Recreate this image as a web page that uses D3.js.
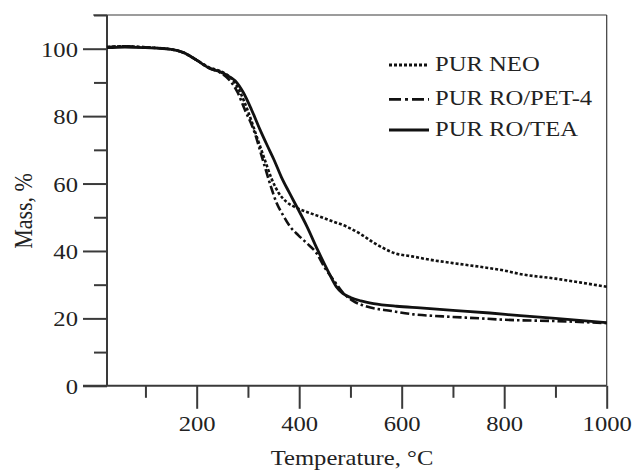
<!DOCTYPE html>
<html>
<head>
<meta charset="utf-8">
<script src="https://cdn.jsdelivr.net/npm/d3@7"></script>
<style>
  body { margin: 0; background: #fff; }
  text { font-family: "Liberation Serif", "Times New Roman", serif; fill: #222; }
</style>
</head>
<body>
<svg id="chart" width="639" height="470"></svg>
<script>
// TGA curves, [temperature °C, mass %]
var neo = [[25,100.5],[60,100.7],[100,100.4],[150,99.8],[175,98.8],[200,96.6],[225,94.4],[245,93.4],[258,92.4],
  [270,90.8],[285,87],[300,81.5],[317,74],[333,67],[346,61.5],[360,57.2],[375,54.6],[395,52.8],[420,51.3],
  [440,50.2],[465,48.8],[493,47.2],[520,45],[545,42.5],[565,40.8],[585,39.4],[620,38.4],[655,37.4],[700,36.4],
  [753,35.3],[800,34.2],[830,33.2],[900,31.8],[950,30.6],[1000,29.4]];
var pet4 = [[25,100.5],[60,100.7],[100,100.4],[150,99.8],[175,98.8],[200,96.6],[225,94.2],[245,93],[265,90.5],
  [280,87],[294,81.9],[311,76],[330,66.5],[345,59],[356,54.2],[369,50.5],[382,47.3],[398,44.7],[415,42.3],
  [434,39.3],[450,35],[467,31.4],[486,27.5],[505,25.2],[532,23.5],[580,22.2],[623,21.2],[680,20.6],
  [753,20],[800,19.6],[900,19.2],[1000,18.6]];
var tea = [[25,100.3],[60,100.5],[100,100.3],[150,99.8],[175,98.8],[200,96.6],[225,94.2],[245,93.2],[258,92.2],
  [275,90.5],[291,87],[307,81.9],[323.5,76],[337,71.5],[351,67],[365,62],[380,57.5],[395,53.2],[415,47.3],
  [436,40.3],[455,34.4],[472,29.5],[485,27.4],[500,26.2],[520,25.2],[545,24.4],[590,23.6],[636,23.1],
  [700,22.4],[772,21.6],[831,20.8],[900,20],[1000,18.7]];

var seriesNames = ["PUR NEO", "PUR RO/PET-4", "PUR RO/TEA"];
var seriesData = [neo, pet4, tea];
var dashes = ["3,2", "9,3,2.5,3", null];

var xMajor = [200, 400, 600, 800, 1000];
var xMinor = [100, 300, 500, 700, 900];
var yMajor = [0, 20, 40, 60, 80, 100];
var yMinor = [10, 30, 50, 70, 90, 110];

var svg = d3.select("#chart");
var axisCol = "#3a3a3a";
var sx = 1.12; // text looks a bit stretched sideways in the source

var x = d3.scaleLinear().domain([25, 1000]).range([107, 606.7]);
var y = d3.scaleLinear().domain([0, 110]).range([385.8, 15]);

// frame top and right (thin)
svg.append("line").attr("x1", 93).attr("x2", x(1000)).attr("y1", y(110)).attr("y2", y(110))
  .attr("stroke", axisCol).attr("stroke-width", 1.2);
svg.append("line").attr("x1", x(1000)).attr("x2", x(1000)).attr("y1", y(110)).attr("y2", y(0))
  .attr("stroke", axisCol).attr("stroke-width", 1.2);

// y axis
var gy = svg.append("g").attr("transform", "translate(107,0)");
gy.call(d3.axisLeft(y).tickValues(yMajor).tickSize(24).tickFormat(d3.format("d")));
gy.call(g => g.select(".domain").remove());
var gy2 = svg.append("g").attr("transform", "translate(107,0)");
gy2.call(d3.axisLeft(y).tickValues(yMinor).tickSize(13).tickFormat(""));
gy2.call(g => g.select(".domain").remove());
[gy, gy2].forEach(function(g){
  g.selectAll(".tick line").attr("stroke", axisCol).attr("stroke-width", 2);
});
gy.selectAll(".tick text")
  .attr("x", null).attr("dy", null)
  .attr("transform", "translate(-29,7.6) scale(" + sx + ",1)")
  .style("font-size", "22px").attr("fill", "#222");

// x axis
var gx = svg.append("g").attr("transform", "translate(0,385.8)");
gx.call(d3.axisBottom(x).tickValues(xMajor).tickSize(23).tickFormat(d3.format("d")));
gx.call(g => g.select(".domain").remove());
var gx2 = svg.append("g").attr("transform", "translate(0,385.8)");
gx2.call(d3.axisBottom(x).tickValues(xMinor).tickSize(12).tickFormat(""));
gx2.call(g => g.select(".domain").remove());
[gx, gx2].forEach(function(g){
  g.selectAll(".tick line").attr("stroke", axisCol).attr("stroke-width", 2);
});
gx.selectAll(".tick text")
  .attr("y", null).attr("dy", null)
  .attr("transform", "translate(0,45) scale(" + sx + ",1)")
  .style("font-size", "22px").attr("fill", "#222");

// main axis lines
svg.append("line").attr("x1", 83).attr("x2", x(1000)).attr("y1", y(0)).attr("y2", y(0))
  .attr("stroke", axisCol).attr("stroke-width", 2);
svg.append("line").attr("x1", 107).attr("x2", 107).attr("y1", y(110)).attr("y2", y(0))
  .attr("stroke", axisCol).attr("stroke-width", 2);

// axis titles
svg.append("text")
  .attr("transform", "translate(352,465) scale(" + sx + ",1)")
  .attr("text-anchor", "middle")
  .style("font-size", "22px")
  .text("Temperature, °C");
svg.append("text")
  .attr("transform", "translate(31.5,211) rotate(-90) scale(1," + sx + ")")
  .attr("text-anchor", "middle")
  .style("font-size", "22px")
  .text("Mass, %");

// curves
var line = d3.line().x(d => x(d[0])).y(d => y(d[1])).curve(d3.curveMonotoneX);
seriesData.forEach(function(s, i){
  svg.append("path")
    .datum(s)
    .attr("d", line)
    .attr("fill", "none")
    .attr("stroke", "#111")
    .attr("stroke-width", i == 2 ? 2.8 : 2.6)
    .attr("stroke-dasharray", dashes[i]);
});

// legend
var legY = [65, 99.3, 130];
seriesNames.forEach(function(n, i){
  svg.append("line")
    .attr("x1", 389).attr("x2", 429)
    .attr("y1", legY[i]).attr("y2", legY[i])
    .attr("stroke", "#111")
    .attr("stroke-width", i == 2 ? 3 : 2.8)
    .attr("stroke-dasharray", i == 1 ? "12,4,3,4" : dashes[i]);
  svg.append("text")
    .attr("transform", "translate(435," + (legY[i] + 6) + ") scale(" + sx + ",1)")
    .style("font-size", "22px")
    .text(n);
});
</script>
</body>
</html>
